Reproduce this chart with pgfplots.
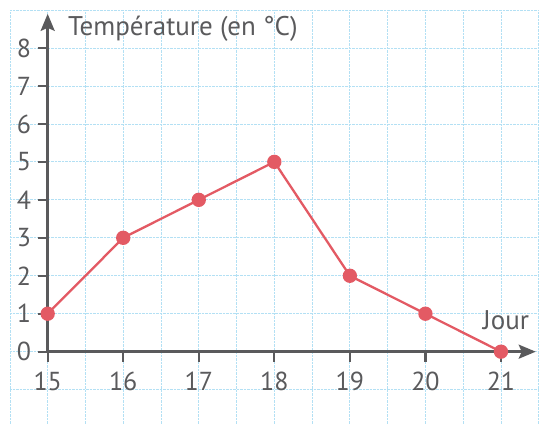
\documentclass[border=0pt]{standalone}
\usepackage{pgfplots}
\pgfplotsset{compat=1.18}
\usepackage{fontspec}
\setmainfont{PT Sans}
\usetikzlibrary{arrows.meta}

\definecolor{axisgray}{HTML}{5A5A5C}
\definecolor{gridblue}{HTML}{B3E0F4}
\definecolor{linered}{HTML}{E35A64}

\begin{document}
\begin{tikzpicture}
% background grid paper
\begin{axis}[
    name=paper,
    x=75.55pt, y=37.96pt,
    scale only axis,
    xmin=14.5, xmax=21.5,
    ymin=-1.9, ymax=9,
    xtick={14.5,15,...,21.5},
    ytick={-1,0,...,9},
    xticklabels={}, yticklabels={},
    major tick length=0pt,
    axis line style={draw=none},
    grid=major,
    major grid style={gridblue, densely dotted, line width=0.8pt},
]
\coordinate (orig) at (axis cs:15,0);
\end{axis}

\begin{axis}[
    at={(orig)}, anchor=south west,
    x=75.55pt, y=37.96pt,
    scale only axis,
    xmin=15, xmax=21.46,
    ymin=0, ymax=8.9,
    axis lines=left,
    axis line style={axisgray, line width=2.4pt, -{Stealth[length=17pt, width=14pt, inset=3pt]}},
    xtick={15,...,21}, ytick={0,...,8},
    tick align=outside,
    major tick length=10pt,
    tick style={axisgray, line width=2.2pt},
    /pgf/number format/assume math mode=true,
    tick label style={font=\fontsize{26}{26}\selectfont, text=axisgray},
    xticklabel style={yshift=-7pt},
    yticklabel style={xshift=-3pt},
    ylabel={Température (en °C)},
    ylabel style={rotate=-90, at={(axis description cs:0.0416,0.9346)}, anchor=base west,
        font=\fontsize{27}{27}\selectfont, text=axisgray, inner sep=0pt},
    xlabel={Jour},
    xlabel style={at={(axis description cs:0.939,0.067)}, anchor=base,
        font=\fontsize{27}{27}\selectfont, text=axisgray, inner sep=0pt},
    clip=false,
]
\addplot[linered, line width=2.3pt, mark=*, mark size=6pt,
    mark options={fill=linered, draw=none}] coordinates {
    (15,1) (16,3) (17,4) (18,5) (19,2) (20,1) (21,0)
};
\end{axis}

\pgfresetboundingbox
\path (paper.south west) ++(-9.9pt,-0.2pt) rectangle ++(543pt,424pt);
\end{tikzpicture}
\end{document}
